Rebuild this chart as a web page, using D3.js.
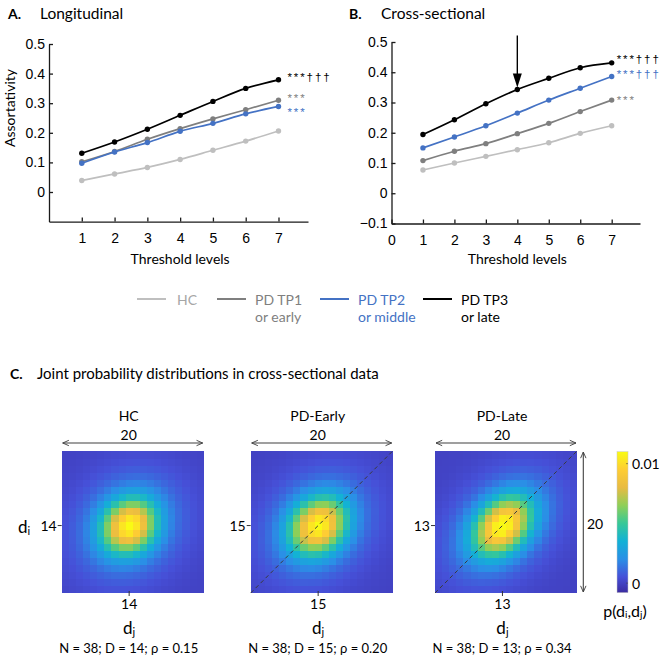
<!DOCTYPE html>
<html><head><meta charset="utf-8">
<script src="https://cdn.jsdelivr.net/npm/d3@7"></script>
<style>body{margin:0;background:#fff}svg{display:block}</style>
</head><body>
<svg id="c" width="666" height="661"></svg>
<script>
// ---------------- data ----------------
const thresholds = [1, 2, 3, 4, 5, 6, 7];
const seriesNames = ["HC", "PD TP1", "PD TP2", "PD TP3"];
const longHC  = [0.039, 0.061, 0.083, 0.110, 0.141, 0.172, 0.206];
const longTP1 = [0.102, 0.137, 0.178, 0.214, 0.247, 0.278, 0.310];
const longTP2 = [0.097, 0.135, 0.167, 0.205, 0.232, 0.264, 0.289];
const longTP3 = [0.131, 0.169, 0.212, 0.259, 0.306, 0.350, 0.379];
const crossHC     = [0.077, 0.100, 0.122, 0.144, 0.167, 0.198, 0.223];
const crossEarly  = [0.108, 0.139, 0.164, 0.197, 0.231, 0.270, 0.308];
const crossMiddle = [0.150, 0.186, 0.223, 0.265, 0.308, 0.347, 0.386];
const crossLate   = [0.194, 0.243, 0.296, 0.343, 0.380, 0.415, 0.431];
const longSig  = ["", "***", "***", "***†††"];
const crossSig = ["", "***", "***†††", "***†††"];
const yTicksA = [0, 0.1, 0.2, 0.3, 0.4, 0.5];
const yTicksB = [-0.1, 0, 0.1, 0.2, 0.3, 0.4, 0.5];
const xTicksA = [1, 2, 3, 4, 5, 6, 7];
const xTicksB = [0, 1, 2, 3, 4, 5, 6, 7];
const arrowThreshold = 4;
const legendLine1 = ["HC", "PD TP1", "PD TP2", "PD TP3"];
const legendLine2 = ["", "or early", "or middle", "or late"];

const heatGroups = ["HC", "PD-Early", "PD-Late"];
const heatN   = [38, 38, 38];
const heatD   = [14, 15, 13];
const heatRho = [0.15, 0.20, 0.34];
const heatCoreSD = [2.5, 2.6, 2.7];          // estimated core spread (degree units)
const heatTailSD = [5.0, 5.0, 5.0];          // estimated tail spread
const heatTailW  = [0.25, 0.25, 0.25];       // estimated tail weight
const heatPeak = [0.0110, 0.0110, 0.0113];   // estimated peak probability
const heatRange = 20;
const colorbarTicks = [0, 0.01];

// ---------------- styles ----------------
const colors = ["#bfbfbf", "#7f7f7f", "#4472c4", "#000000"];
const textColors = ["#a6a6a6", "#7f7f7f", "#4472c4", "#000000"];
const sans = "'Liberation Sans', Arial, sans-serif";
const cal = "Lato, 'Open Sans', sans-serif";
const parulaStops = [0, 0.111, 0.238, 0.365, 0.492, 0.619, 0.746, 0.873, 1];
const parulaColors = ["#3b2ba0", "#4650d8", "#2a8fe6", "#12b1d6", "#37c897",
                      "#8fcf58", "#e8bb42", "#fecd34", "#f9fb14"];

const svg = d3.select("#c");

// ---------------- line charts ----------------
function lineChart(cfg) {
  const g = svg.append("g");
  const x = d3.scaleLinear().domain([0, 7.9]).range(cfg.xr);
  const y = d3.scaleLinear().domain([-0.1, 0.5]).range(cfg.yr);
  const yAx = d3.axisLeft(y).tickValues(cfg.yTicks).tickSizeInner(-4).tickSizeOuter(0)
    .tickPadding(4).tickFormat(d => d3.format("")(Math.round(d * 10) / 10));
  const xAx = d3.axisBottom(x).tickValues(cfg.xTicks).tickSizeInner(-4).tickSizeOuter(0)
    .tickPadding(cfg.xpad);
  const ya = g.append("g").attr("transform", `translate(${cfg.xr[0]},0)`).call(yAx);
  const xa = g.append("g").attr("transform", `translate(0,${cfg.yr[0]})`).call(xAx);
  [ya, xa].forEach(a => {
    a.selectAll("path,line").attr("stroke", "#1a1a1a").attr("stroke-width", 1.3);
    a.selectAll("text").attr("font-family", sans).attr("font-size", 14).attr("fill", "#000");
  });
  const line = d3.line().x((d, i) => x(thresholds[i])).y(d => y(d)).curve(d3.curveMonotoneX);
  cfg.series.forEach((s, k) => {
    g.append("path").attr("d", line(s)).attr("fill", "none")
      .attr("stroke", colors[k]).attr("stroke-width", 1.7);
    g.selectAll(null).data(s).enter().append("circle")
      .attr("cx", (d, i) => x(thresholds[i])).attr("cy", d => y(d)).attr("r", 2.7)
      .attr("fill", colors[k]);
    if (cfg.sig[k]) {
      g.append("text").attr("x", x(7) + cfg.sigDx).attr("y", y(s[6]) + cfg.sigDy[k])
        .attr("dominant-baseline", "central")
        .attr("font-family", sans).attr("font-size", 11.5).attr("letter-spacing", 1.9)
        .attr("fill", colors[k]).text(cfg.sig[k]);
    }
  });
  g.append("text").attr("x", (x(1) + x(7)) / 2).attr("y", 258)
    .attr("text-anchor", "middle").attr("dominant-baseline", "central")
    .attr("font-family", cal).attr("font-size", 14).text("Threshold levels");
  g.append("text").attr("x", cfg.titleX).attr("y", 13).attr("dominant-baseline", "central")
    .attr("font-family", cal).attr("font-size", 14).attr("font-weight", "bold").text(cfg.letter);
  g.append("text").attr("x", cfg.titleX + 32).attr("y", 13).attr("dominant-baseline", "central")
    .attr("font-family", cal).attr("font-size", 15.5).text(cfg.title);
  return {x, y, g};
}

const A = lineChart({xr: [49, 308], yr: [221.6, 44], yTicks: yTicksA, xTicks: xTicksA, xpad: 11,
  series: [longHC, longTP1, longTP2, longTP3], sig: longSig, sigDy: [0, -1.8, 5.7, -3], sigDx: 9,
  letter: "A.", title: "Longitudinal", titleX: 8});
svg.append("text").attr("transform", "translate(9,108) rotate(-90)")
  .attr("text-anchor", "middle").attr("dominant-baseline", "central")
  .attr("font-family", cal).attr("font-size", 14).text("Assortativity");

const B = lineChart({xr: [391.5, 640], yr: [223.5, 42], yTicks: yTicksB, xTicks: xTicksB, xpad: 12,
  series: [crossHC, crossEarly, crossMiddle, crossLate], sig: crossSig, sigDy: [0, 0, -2, -4], sigDx: 5,
  letter: "B.", title: "Cross-sectional", titleX: 349});
// arrow at threshold 4
{
  const ax = B.x(arrowThreshold), ay = B.y(crossLate[arrowThreshold - 1]);
  B.g.append("line").attr("x1", ax).attr("x2", ax).attr("y1", ay - 54).attr("y2", ay - 14)
    .attr("stroke", "#000").attr("stroke-width", 1.4);
  B.g.append("path").attr("d", `M${ax - 4.5},${ay - 16}L${ax + 4.5},${ay - 16}L${ax},${ay - 2}Z`)
    .attr("fill", "#000");
}

// ---------------- legend ----------------
const legX = [137, 217, 320, 423];
const lg = svg.append("g");
legendLine1.forEach((t, k) => {
  lg.append("line").attr("x1", legX[k]).attr("x2", legX[k] + 29).attr("y1", 299).attr("y2", 299)
    .attr("stroke", colors[k]).attr("stroke-width", 2);
  lg.append("text").attr("x", legX[k] + (k === 0 ? 40 : 38)).attr("y", 299)
    .attr("dominant-baseline", "central").attr("font-family", cal).attr("font-size", 14)
    .attr("fill", textColors[k]).text(t);
  if (legendLine2[k]) lg.append("text").attr("x", legX[k] + 38).attr("y", 316)
    .attr("dominant-baseline", "central").attr("font-family", cal).attr("font-size", 14)
    .attr("fill", textColors[k]).text(legendLine2[k]);
});

// ---------------- panel C ----------------
svg.append("text").attr("x", 10).attr("y", 373).attr("dominant-baseline", "central")
  .attr("font-family", cal).attr("font-size", 14).attr("font-weight", "bold").text("C.");
svg.append("text").attr("x", 37).attr("y", 373).attr("dominant-baseline", "central")
  .attr("font-family", cal).attr("font-size", 15).text("Joint probability distributions in cross-sectional data");

const cbDomain = [-0.0008, 0.011];
const color = d3.scaleLinear()
  .domain(parulaStops.map(t => cbDomain[0] + t * (cbDomain[1] - cbDomain[0])))
  .range(parulaColors).interpolate(d3.interpolateRgb).clamp(true);

const defs = svg.append("defs");
const grad = defs.append("linearGradient").attr("id", "cb").attr("x1", 0).attr("x2", 0).attr("y1", 1).attr("y2", 0);
parulaStops.forEach((t, i) => grad.append("stop").attr("offset", t).attr("stop-color", parulaColors[i]));
defs.append("marker").attr("id", "ah").attr("viewBox", "0 0 10 10").attr("refX", 9).attr("refY", 5)
  .attr("markerWidth", 7).attr("markerHeight", 7).attr("orient", "auto-start-reverse")
  .append("path").attr("d", "M1,1.5L9,5L1,8.5").attr("fill", "none").attr("stroke", "#404040").attr("stroke-width", 1.2);

const hmLeft = [61.7, 250.7, 435], hmTop = 451, hmSize = 142;
heatGroups.forEach((name, p) => {
  const D = heatD[p], rho = heatRho[p];
  const degs = d3.range(D - heatRange / 2 + 1, D + heatRange / 2 + 1);
  const L = hmLeft[p];
  const xb = d3.scaleBand().domain(degs).range([L, L + hmSize]);
  const yb = d3.scaleBand().domain(degs).range([hmTop + hmSize, hmTop]);
  const cells = [];
  degs.forEach(di => degs.forEach(dj => {
    const u = dj - D, v = di - D;
    const q = (u * u - 2 * rho * u * v + v * v) / (1 - rho * rho);
    const core = Math.exp(-q / (2 * heatCoreSD[p] ** 2));
    const tail = Math.exp(-q / (2 * heatTailSD[p] ** 2));
    cells.push({di, dj, p: heatPeak[p] * ((1 - heatTailW[p]) * core + heatTailW[p] * tail)});
  }));
  const g = svg.append("g");
  g.selectAll("rect").data(cells).enter().append("rect")
    .attr("x", d => xb(d.dj)).attr("y", d => yb(d.di))
    .attr("width", xb.bandwidth() + 0.4).attr("height", yb.bandwidth() + 0.4)
    .attr("fill", d => color(d.p)).attr("shape-rendering", "crispEdges");
  if (p > 0) g.append("line").attr("x1", L).attr("y1", hmTop + hmSize).attr("x2", L + hmSize).attr("y2", hmTop)
    .attr("stroke", "#3a3a3a").attr("stroke-width", 1).attr("stroke-dasharray", "4,3");
  const cx = xb(D) + xb.bandwidth() / 2, cy = yb(D) + yb.bandwidth() / 2;
  const mid = L + hmSize / 2 - 4;
  g.append("text").attr("x", mid).attr("y", 415).attr("text-anchor", "middle").attr("dominant-baseline", "central")
    .attr("font-family", cal).attr("font-size", 14).text(name);
  g.append("text").attr("x", mid).attr("y", 434).attr("text-anchor", "middle").attr("dominant-baseline", "central")
    .attr("font-family", cal).attr("font-size", 14).text(heatRange);
  g.append("line").attr("x1", L + 1).attr("x2", L + hmSize - 1).attr("y1", 443).attr("y2", 443)
    .attr("stroke", "#404040").attr("stroke-width", 1.1)
    .attr("marker-start", "url(#ah)").attr("marker-end", "url(#ah)");
  // ticks
  g.append("line").attr("x1", L - 4).attr("x2", L).attr("y1", cy).attr("y2", cy).attr("stroke", "#333");
  g.append("text").attr("x", L - 5).attr("y", cy).attr("text-anchor", "end").attr("dominant-baseline", "central")
    .attr("font-family", cal).attr("font-size", 14).text(D);
  g.append("line").attr("x1", cx).attr("x2", cx).attr("y1", hmTop + hmSize - 2).attr("y2", hmTop + hmSize + 3).attr("stroke", "#333");
  g.append("text").attr("x", cx).attr("y", 603).attr("text-anchor", "middle").attr("dominant-baseline", "central")
    .attr("font-family", cal).attr("font-size", 14).text(D);
  const dj = g.append("text").attr("x", cx).attr("y", 627).attr("text-anchor", "middle").attr("dominant-baseline", "central")
    .attr("font-family", cal).attr("font-size", 17);
  dj.append("tspan").text("d");
  dj.append("tspan").attr("font-size", 11).attr("dy", 4).text("j");
  g.append("text").attr("x", mid).attr("y", 648).attr("text-anchor", "middle").attr("dominant-baseline", "central")
    .attr("font-family", cal).attr("font-size", 13)
    .text(`N = ${heatN[p]}; D = ${D}; ρ = ${heatRho[p].toFixed(2)}`);
  if (p === 0) {
    const di = g.append("text").attr("x", 18).attr("y", cy).attr("dominant-baseline", "central")
      .attr("font-family", cal).attr("font-size", 17);
    di.append("tspan").text("d");
    di.append("tspan").attr("font-size", 11).attr("dy", 4).text("i");
  }
  if (p === 2) {
    g.append("line").attr("x1", 583.3).attr("x2", 583.3).attr("y1", hmTop + 1).attr("y2", hmTop + hmSize - 1)
      .attr("stroke", "#404040").attr("stroke-width", 1.1)
      .attr("marker-start", "url(#ah)").attr("marker-end", "url(#ah)");
    g.append("text").attr("x", 595).attr("y", 523).attr("text-anchor", "middle").attr("dominant-baseline", "central")
      .attr("font-family", cal).attr("font-size", 14).text(heatRange);
  }
});

// colorbar
{
  const cbX = 617, cbW = 11;
  const cy = d3.scaleLinear().domain(cbDomain).range([592.7, 451.7]);
  svg.append("rect").attr("x", cbX).attr("y", 451.7).attr("width", cbW).attr("height", 141)
    .attr("fill", "url(#cb)").attr("stroke", "#c8c8c8").attr("stroke-width", 0.5);
  colorbarTicks.forEach(t => {
    svg.append("line").attr("x1", cbX + cbW - 2).attr("x2", cbX + cbW).attr("y1", cy(t)).attr("y2", cy(t)).attr("stroke", "#444").attr("stroke-width", 0.6);
    svg.append("text").attr("x", cbX + cbW + 4).attr("y", cy(t)).attr("dominant-baseline", "central")
      .attr("font-family", cal).attr("font-size", 14).text(t === 0 ? "0" : t);
  });
  const pl = svg.append("text").attr("x", 625).attr("y", 610).attr("text-anchor", "middle").attr("dominant-baseline", "central")
    .attr("font-family", cal).attr("font-size", 16);
  pl.append("tspan").text("p(d");
  pl.append("tspan").attr("font-size", 10).attr("dy", 4).text("i");
  pl.append("tspan").attr("dy", -4).text(",d");
  pl.append("tspan").attr("font-size", 10).attr("dy", 4).text("j");
  pl.append("tspan").attr("dy", -4).text(")");
}
</script>
</body></html>
